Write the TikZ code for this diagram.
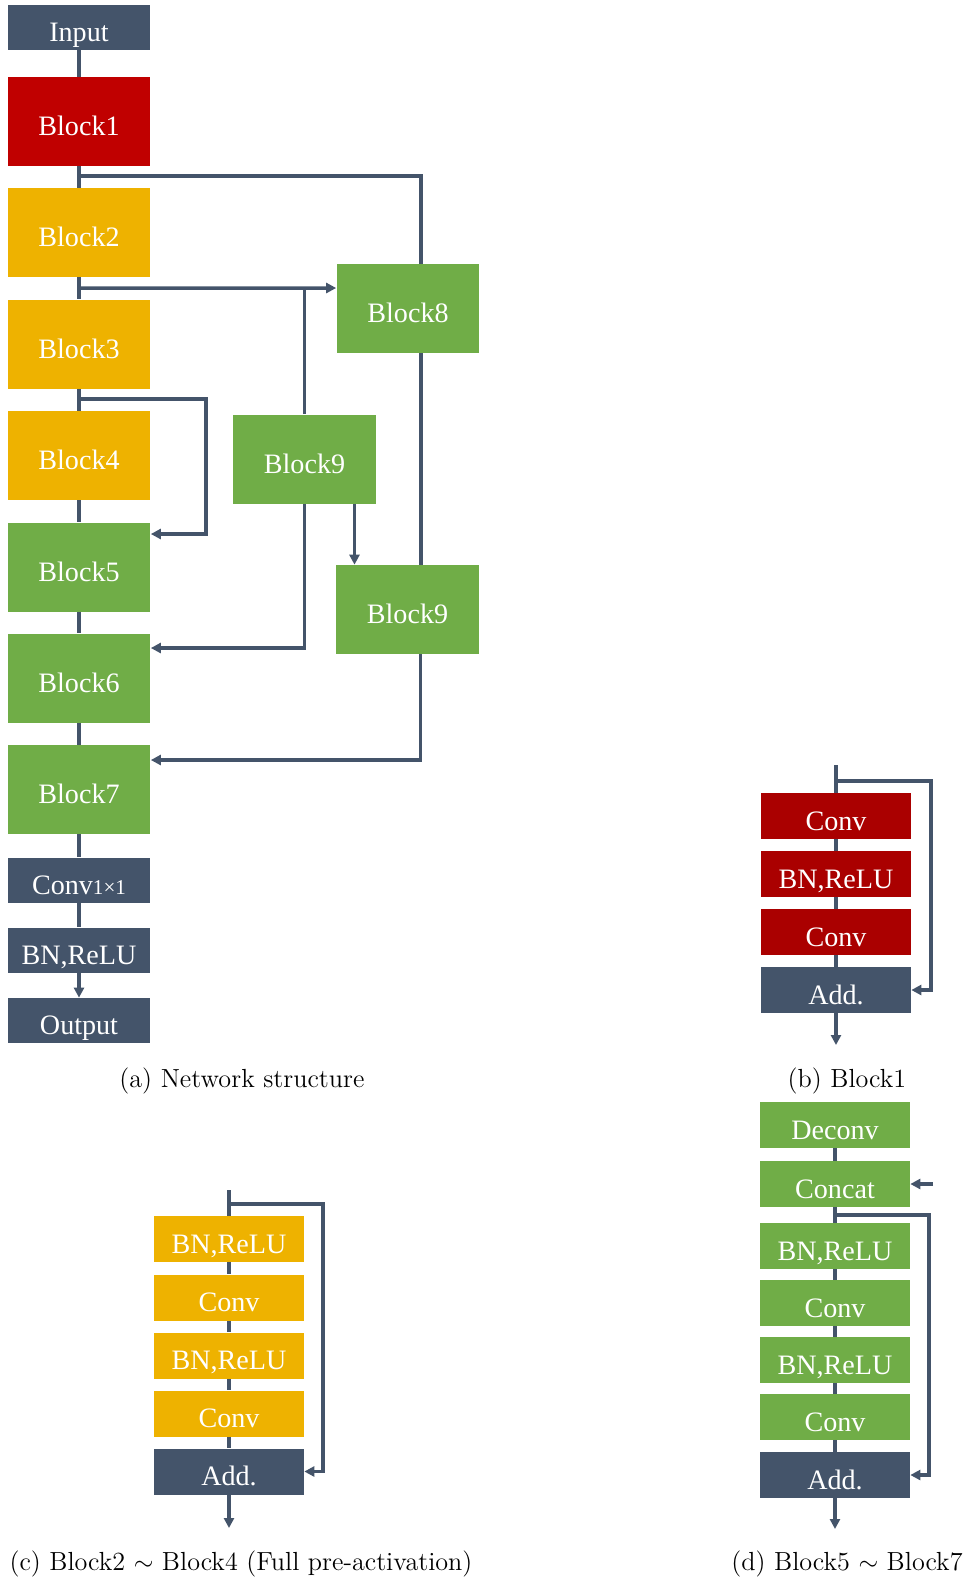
\documentclass[tikz,border=0pt]{standalone}
\usepackage{fontspec}
\usepackage{amsmath}
\newfontfamily\boxfont{Liberation Serif}
\usetikzlibrary{arrows.meta, calc, positioning}
\definecolor{slate}{RGB}{68,84,106}
\definecolor{blkred}{RGB}{192,0,0}
\definecolor{darkred}{RGB}{170,0,0}
\definecolor{gold}{RGB}{238,178,0}
\definecolor{leaf}{RGB}{112,173,71}

\begin{document}
\begin{tikzpicture}[x=0.02cm, y=-0.02cm, blocknode/.style={rectangle, text=white, inner sep=0pt, minimum width=2.86cm, minimum height=1.78cm, text height=16pt, text depth=0pt, font=\boxfont\fontsize{16}{19}\selectfont}, ionode/.style={blocknode, fill=slate, minimum height=0.9cm}, opnode/.style={blocknode, minimum width=3cm, minimum height=0.92cm}, link/.style={line width=2pt, color=slate}, capnode/.style={font=\fontsize{14.9}{18}\selectfont}, >={Triangle[length=0.2cm, width=0.2cm]}]
\useasboundingbox (0,0) rectangle (970,1580);
%(a) network
\node[ionode] at (79, 27.5) (in) {Input};
\node[blocknode, fill=blkred] at (79, 121.5) (b1) {Block1};
\node[blocknode, fill=gold] at (79, 232.5) (b2) {Block2};
\node[blocknode, fill=gold] at (79, 344) (b3) {Block3};
\node[blocknode, fill=gold] at (79, 455.5) (b4) {Block4};
\node[blocknode, fill=leaf] at (79, 567) (b5) {Block5};
\node[blocknode, fill=leaf] at (79, 678) (b6) {Block6};
\node[blocknode, fill=leaf] at (79, 789.5) (b7) {Block7};
\node[ionode] at (79, 880) (c11) {Conv{\fontsize{12}{14}\selectfont 1×1}};
\node[ionode] at (79, 950) (bnr) {BN,ReLU};
\node[ionode] at (79, 1020.5) (out) {Output};
\node[blocknode, fill=leaf] at (408, 308.5) (b8) {Block8};
\node[blocknode, fill=leaf] at (304.5, 459) (b9a) {Block9};
\node[blocknode, fill=leaf] at (407.5, 609.5) (b9b) {Block9};
\draw[link] (in) -- (b1);
\draw[link] (b1) -- (b2);
\draw[link] (b2) -- (b3);
\draw[link] (b3) -- (b4);
\draw[link] (b4) -- (b5);
\draw[link] (b5) -- (b6);
\draw[link] (b6) -- (b7);
\draw[link] (b7) -- (c11);
\draw[link] (c11) -- (bnr);
\draw[link, ->] (bnr) -- (out);
\coordinate (s1) at (79, 176);
\coordinate (s2) at (79, 288);
\coordinate (s3) at (79, 399);
\draw[link] (s1) -| ([xshift=0.26cm]b8.north);
\draw[link, ->] (s2) -- ([yshift=0.41cm]b8.west);
\draw[link] (b9a.north) -- (b9a.north |- s2);
\draw[link, ->] (s3) -- ++(127, 0) |- ([yshift=0.66cm]b5.east);
\draw[link, ->] (b9a.south) |- ([yshift=0.6cm]b6.east);
\draw[link, ->] ([xshift=1cm]b9a.south) -- ([xshift=1cm]b9a.south |- b9b.north);
\draw[link] ([xshift=0.26cm]b8.south) -- ([xshift=0.26cm]b8.south |- b9b.north);
\draw[link, ->] ([xshift=0.26cm]b9b.south) |- ([yshift=0.59cm]b7.east);
\node[capnode] at (242, 1081) (capa) {(a) Network structure};
%(b) block1
\coordinate (btop) at (836, 765);
\coordinate (bsk) at (836, 781);
\node[opnode, fill=darkred] at (836, 816) (bc1) {Conv};
\node[opnode, fill=darkred] at (836, 874) (bbn) {BN,ReLU};
\node[opnode, fill=darkred] at (836, 932) (bc2) {Conv};
\node[opnode, fill=slate] at (836, 990) (badd) {Add.};
\coordinate (bend) at (836, 1045);
\draw[link] (btop) -- (bc1);
\draw[link] (bc1) -- (bbn);
\draw[link] (bbn) -- (bc2);
\draw[link] (bc2) -- (badd);
\draw[link, ->] (badd) -- (bend);
\draw[link, ->] (bsk) -- ++(95, 0) |- (badd.east);
\node[capnode] at (847, 1081) (capb) {(b) Block1};
%(c) block2-4
\coordinate (ctop) at (229, 1190);
\coordinate (csk) at (229, 1204);
\node[opnode, fill=gold] at (229, 1239) (cbn1) {BN,ReLU};
\node[opnode, fill=gold] at (229, 1297.5) (cc1) {Conv};
\node[opnode, fill=gold] at (229, 1355.5) (cbn2) {BN,ReLU};
\node[opnode, fill=gold] at (229, 1413.5) (cc2) {Conv};
\node[opnode, fill=slate] at (229, 1471.5) (cadd) {Add.};
\coordinate (cend) at (229, 1528);
\draw[link] (ctop) -- (cbn1);
\draw[link] (cbn1) -- (cc1);
\draw[link] (cc1) -- (cbn2);
\draw[link] (cbn2) -- (cc2);
\draw[link] (cc2) -- (cadd);
\draw[link, ->] (cadd) -- (cend);
\draw[link, ->] (csk) -- ++(94, 0) |- (cadd.east);
\node[capnode] at (241, 1564) (capc) {(c) Block2 $\sim$ Block4 (Full pre-activation)};
%(d) block5-7
\node[opnode, fill=leaf] at (835, 1125) (dde) {Deconv};
\node[opnode, fill=leaf] at (835, 1184) (dcat) {Concat};
\node[opnode, fill=leaf] at (835, 1246) (dbn1) {BN,ReLU};
\node[opnode, fill=leaf] at (835, 1303) (dc1) {Conv};
\node[opnode, fill=leaf] at (835, 1360) (dbn2) {BN,ReLU};
\node[opnode, fill=leaf] at (835, 1417) (dc2) {Conv};
\node[opnode, fill=slate] at (835, 1475) (dadd) {Add.};
\coordinate (din) at (933, 1184);
\coordinate (dsk) at (835, 1215);
\coordinate (dend) at (835, 1529);
\draw[link] (dde) -- (dcat);
\draw[link, ->] (din) -- (dcat.east);
\draw[link] (dcat) -- (dbn1);
\draw[link] (dbn1) -- (dc1);
\draw[link] (dc1) -- (dbn2);
\draw[link] (dbn2) -- (dc2);
\draw[link] (dc2) -- (dadd);
\draw[link, ->] (dadd) -- (dend);
\draw[link, ->] (dsk) -- ++(94, 0) |- (dadd.east);
\node[capnode] at (847, 1564) (capd) {(d) Block5 $\sim$ Block7};
\end{tikzpicture}
\end{document}
